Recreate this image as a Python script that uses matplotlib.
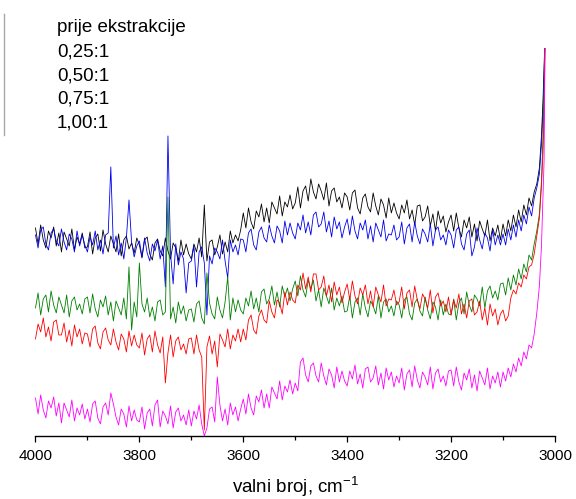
import matplotlib
matplotlib.use("Agg")
import matplotlib.pyplot as plt
from matplotlib.lines import Line2D
from matplotlib.ticker import MultipleLocator
import numpy as np

plt.rcParams["font.family"] = ["Liberation Sans", "DejaVu Sans"]

# valni broj (cm-1): mreza 4000..3040 svakih 5 + gusce tocke na strmom porastu
wavenumber = np.concatenate([np.arange(4000, 3039, -5), [3035, 3030, 3026, 3023, 3021, 3019]])

# apsorbancija (proizvoljne jedinice, ocitano sa slike), redak = 100 cm-1
prije = [
    208, 192, 211, 196, 188, 205, 198, 209, 190, 203, 184, 204, 197, 190, 207, 186, 199, 192, 203, 188,
    189, 204, 182, 198, 202, 185, 206, 192, 184, 200, 192, 184, 202, 180, 196, 200, 187, 193, 183, 198,
    191, 178, 196, 199, 182, 176, 193, 197, 185, 180, 198, 185, 177, 193, 188, 175, 196, 181, 192, 182,
    177, 192, 184, 198, 179, 231, 175, 194, 196, 181, 189, 201, 182, 194, 184, 205, 193, 201, 195, 206,
    223, 208, 228, 214, 207, 225, 219, 232, 214, 228, 213, 234, 228, 222, 240, 220, 234, 229, 241, 227,
    233, 249, 228, 245, 250, 235, 257, 244, 237, 252, 245, 236, 253, 230, 245, 248, 234, 239, 228, 243,
    239, 226, 243, 246, 228, 222, 238, 242, 229, 224, 243, 230, 221, 237, 231, 218, 238, 223, 233, 223,
    217, 231, 223, 236, 217, 226, 211, 230, 231, 215, 219, 230, 210, 222, 205, 225, 213, 220, 204, 214,
    221, 205, 223, 208, 199, 216, 208, 219, 199, 212, 195, 215, 207, 200, 216, 195, 208, 200, 211, 196,
    212, 200, 216, 205, 221, 209, 226, 214, 231, 221, 238, 230, 244,
    252, 268, 300, 336, 370, 400,
]
omjer_025 = [
    201, 188, 206, 209, 192, 186, 203, 207, 195, 190, 207, 194, 186, 202, 197, 184, 205, 190, 201, 191,
    184, 199, 191, 205, 186, 196, 182, 201, 203, 269, 188, 200, 181, 193, 177, 198, 236, 194, 179, 190,
    195, 179, 198, 183, 175, 192, 185, 196, 177, 190, 149, 300, 182, 152, 192, 171, 184, 177, 143, 173,
    175, 190, 149, 184, 189, 173, 121, 180, 172, 188, 184, 177, 196, 175, 158, 196, 184, 191, 181, 197,
    196, 184, 203, 207, 191, 186, 204, 209, 198, 194, 211, 200, 193, 210, 205, 193, 215, 201, 213, 203,
    197, 213, 206, 221, 203, 214, 201, 221, 224, 209, 212, 224, 204, 215, 199, 219, 207, 214, 198, 209,
    217, 201, 220, 205, 197, 213, 206, 216, 197, 210, 194, 213, 206, 199, 216, 195, 202, 201, 211, 196,
    199, 214, 192, 208, 212, 194, 214, 200, 192, 207, 202, 194, 212, 190, 206, 209, 196, 201, 191, 206,
    201, 188, 206, 209, 192, 186, 202, 206, 180, 189, 208, 196, 187, 203, 198, 185, 206, 191, 201, 191,
    202, 191, 207, 196, 211, 199, 216, 205, 221, 212, 229, 220, 238,
    248, 262, 292, 326, 360, 400,
]
omjer_050 = [
    128, 143, 121, 137, 141, 124, 145, 131, 123, 139, 131, 123, 141, 119, 135, 139, 126, 132, 122, 137,
    139, 123, 142, 127, 119, 136, 129, 140, 121, 134, 115, 135, 128, 121, 138, 117, 169, 106, 134, 119,
    173, 132, 124, 138, 119, 129, 115, 134, 136, 121, 124, 239, 117, 129, 113, 134, 122, 130, 115, 126,
    127, 114, 132, 135, 118, 112, 163, 133, 122, 117, 139, 126, 118, 134, 159, 116, 138, 124, 136, 126,
    122, 138, 130, 145, 127, 138, 124, 144, 147, 132, 137, 150, 131, 144, 129, 150, 139, 148, 135, 147,
    155, 140, 160, 146, 139, 156, 147, 156, 135, 146, 129, 148, 140, 132, 148, 126, 138, 130, 140, 124,
    125, 140, 118, 134, 138, 121, 142, 128, 119, 135, 130, 122, 140, 118, 134, 137, 124, 130, 120, 135,
    131, 118, 136, 139, 122, 116, 133, 137, 125, 120, 139, 126, 117, 134, 129, 116, 136, 121, 132, 122,
    121, 137, 116, 133, 138, 122, 144, 131, 124, 141, 137, 130, 149, 128, 145, 150, 138, 145, 136, 152,
    153, 141, 158, 146, 161, 151, 167, 157, 172, 164, 181, 176, 192,
    205, 222, 255, 300, 345, 400,
]
omjer_075 = [
    97, 112, 104, 118, 99, 109, 95, 114, 116, 101, 101, 113, 94, 106, 90, 111, 99, 107, 92, 103,
    102, 89, 107, 110, 93, 87, 104, 108, 96, 91, 107, 94, 86, 102, 97, 84, 105, 90, 101, 91,
    88, 103, 81, 97, 101, 84, 105, 91, 83, 99, 53, 83, 101, 79, 95, 99, 86, 92, 82, 97,
    98, 82, 101, 86, 79, 6, 89, 100, 82, 95, 69, 102, 96, 89, 107, 87, 101, 95, 107, 94,
    107, 96, 116, 121, 106, 102, 120, 126, 116, 113, 135, 124, 118, 136, 133, 122, 144, 131, 144, 136,
    133, 151, 146, 163, 147, 159, 144, 162, 162, 146, 149, 160, 140, 151, 134, 154, 141, 149, 133, 144,
    152, 136, 155, 140, 132, 148, 141, 151, 132, 145, 129, 149, 141, 134, 151, 130, 137, 136, 146, 131,
    134, 149, 127, 143, 146, 129, 150, 136, 127, 142, 137, 128, 146, 123, 139, 143, 130, 135, 124, 139,
    121, 136, 128, 142, 122, 132, 118, 135, 137, 121, 124, 135, 116, 128, 111, 132, 120, 127, 111, 122,
    126, 115, 120, 138, 146, 142, 153, 149, 161, 157, 169, 171, 182,
    200, 218, 250, 285, 320, 400,
]
omjer_100 = [
    38, 22, 41, 26, 18, 35, 28, 39, 20, 33, 13, 33, 26, 19, 36, 15, 28, 21, 32, 17,
    27, 14, 32, 35, 18, 12, 29, 33, 21, 43, 32, 19, 11, 27, 22, 9, 30, 15, 26, 16,
    14, 29, 7, 23, 27, 10, 31, 36, 9, 25, 20, 12, 30, 8, 24, 28, 15, 21, 11, 26,
    10, 25, 17, 31, 12, 0, 8, 27, 29, 14, 59, 31, 15, 27, 11, 33, 21, 29, 15, 27,
    37, 22, 42, 28, 21, 40, 34, 46, 28, 42, 28, 49, 43, 37, 55, 36, 50, 44, 56, 42,
    53, 45, 74, 78, 61, 54, 70, 73, 60, 54, 73, 60, 51, 67, 61, 48, 69, 54, 65, 55,
    50, 65, 57, 71, 52, 62, 48, 67, 69, 54, 58, 70, 51, 63, 47, 68, 56, 64, 49, 60,
    53, 68, 46, 62, 66, 49, 70, 56, 48, 64, 59, 51, 69, 47, 63, 67, 54, 60, 50, 65,
    66, 50, 69, 54, 46, 63, 56, 67, 48, 61, 45, 65, 58, 51, 68, 47, 60, 53, 64, 49,
    64, 55, 68, 59, 72, 64, 78, 70, 84, 77, 91, 88, 102,
    123, 150, 190, 240, 275, 400,
]

series = [prije, omjer_025, omjer_050, omjer_075, omjer_100]
labels = ["prije ekstrakcije", "0,25:1", "0,50:1", "0,75:1", "1,00:1"]
colors = ["#000000", "#0000ee", "#008000", "#ff0000", "#ff00ff"]

fig = plt.figure(figsize=(5.76, 4.99), dpi=100)
ax = fig.add_axes([0.0616, 0.1263, 0.9019, 0.7776])

for y, c in zip(series, colors):
    ax.plot(wavenumber, y, color=c, linewidth=0.6)

ax.set_xlim(4000, 3000)
ax.set_ylim(0, 388)
ax.xaxis.set_major_locator(MultipleLocator(200))
ax.xaxis.set_minor_locator(MultipleLocator(100))
ax.set_yticks([])
for side in ("top", "right", "left"):
    ax.spines[side].set_visible(False)
ax.spines["bottom"].set_linewidth(1.0)
ax.tick_params(axis="x", which="major", length=4.5, width=0.9, labelsize=11, pad=5)
ax.tick_params(axis="x", which="minor", length=3, width=0.9)
ax.set_xlabel("valni broj, cm$^{\\mathregular{-1}}$", fontsize=13.5, labelpad=8)

# natpisi bez oznaka linija, kao u izvorniku
for i, lab in enumerate(labels):
    fig.text(57 / 576, 1 - (28 + 23.8 * i) / 499, lab, fontsize=13.5, va="center", ha="left")

fig.add_artist(Line2D([4 / 576, 4 / 576], [1 - 14 / 499, 1 - 135 / 499],
                      color="#a8a8a8", linewidth=1.0))

fig.savefig("out.png", dpi=100)
